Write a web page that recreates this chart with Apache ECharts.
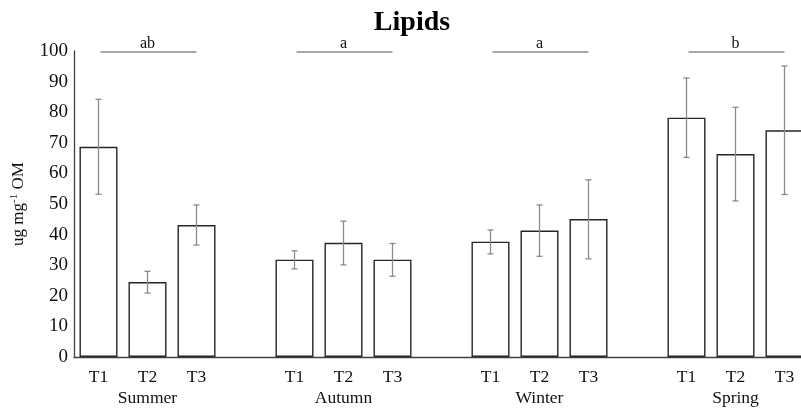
<!DOCTYPE html>
<html lang="en">
<head>
    <meta charset="UTF-8">
    <title>Lipids</title>
    <script src="https://cdn.jsdelivr.net/npm/echarts@6/dist/echarts.min.js"></script>
    <style>
        html, body { margin: 0; padding: 0; background: #fff; }
        #container { width: 801px; height: 410px; }
    </style>
</head>
<body>
<div id="container"></div>
<script>
    // data
    var seasons = ['Summer', 'Autumn', 'Winter', 'Spring'];
    var treatments = ['T1', 'T2', 'T3'];
    var means   = [[68.7, 24.5, 43.1], [31.8, 37.3, 31.8], [37.7, 41.3, 45.1], [78.2, 66.3, 74.1]];
    var errLow  = [[53.2, 20.9, 36.6], [28.8, 30.1, 26.4], [33.7, 32.9, 32.1], [65.2, 51.0, 53.1]];
    var errHigh = [[84.2, 28.0, 49.7], [34.7, 44.4, 37.1], [41.5, 49.7, 57.9], [91.2, 81.6, 95.1]];
    var letters = ['ab', 'a', 'a', 'b'];
    var yTicks = [0, 10, 20, 30, 40, 50, 60, 70, 80, 90, 100];

    var font = 'Liberation Serif, Times New Roman, serif';

    // flatten into one category axis with an empty slot between seasons
    var cats = [], barData = [], errData = [], groups = [];
    seasons.forEach(function (s, i) {
        var start = cats.length;
        treatments.forEach(function (t, j) {
            cats.push(j === 1 ? t + '\n' + s : t);
            barData.push(means[i][j]);
            errData.push([cats.length - 1, errLow[i][j], errHigh[i][j]]);
        });
        groups.push([start, cats.length - 1]);
        if (i < seasons.length - 1) {
            cats.push('');
            barData.push('-');
        }
    });

    var dom = document.getElementById('container');
    var myChart = echarts.init(dom);

    var option = {
        animation: false,
        title: {
            text: 'Lipids',
            left: 407,
            top: 4,
            textAlign: 'center',
            textStyle: { fontFamily: font, fontSize: 28, fontWeight: 'bold', color: '#000' }
        },
        grid: { left: 74, right: -8, top: 51, bottom: 53, outerBoundsMode: 'none', containLabel: false },
        xAxis: {
            type: 'category',
            data: cats,
            axisTick: { show: false },
            axisLine: { lineStyle: { color: '#404040', width: 1.3 } },
            axisLabel: {
                interval: 0,
                margin: 10,
                fontFamily: font,
                fontSize: 17.5,
                lineHeight: 21,
                color: '#111'
            }
        },
        yAxis: {
            type: 'value',
            min: yTicks[0],
            max: yTicks[yTicks.length - 1],
            interval: 10,
            splitLine: { show: false },
            axisTick: { show: false },
            axisLine: { show: true, lineStyle: { color: '#404040', width: 1.3 } },
            axisLabel: { margin: 6, fontFamily: font, fontSize: 19, color: '#111' },
            name: '{a|ug mg}{s|-1}{a| OM}',
            nameLocation: 'middle',
            nameRotate: 90,
            nameGap: 45,
            nameTextStyle: {
                rich: {
                    a: { fontFamily: font, fontSize: 17, color: '#111', lineHeight: 20 },
                    s: { fontFamily: font, fontSize: 11, color: '#111', lineHeight: 20, verticalAlign: 'top', padding: [0, 0, 6, 0] }
                }
            }
        },
        series: [
            {
                type: 'bar',
                data: barData,
                barWidth: 38,
                itemStyle: { color: '#fff', borderColor: '#262626', borderWidth: 1.4 }
            },
            {
                type: 'custom',
                data: errData,
                z: 5,
                renderItem: function (params, api) {
                    var lo = api.coord([api.value(0), api.value(1)]);
                    var hi = api.coord([api.value(0), api.value(2)]);
                    var w = 3;
                    var st = { stroke: '#8a8a8a', lineWidth: 1.3 };
                    return {
                        type: 'group',
                        children: [
                            { type: 'line', shape: { x1: lo[0], y1: lo[1], x2: hi[0], y2: hi[1] }, style: st },
                            { type: 'line', shape: { x1: lo[0] - w, y1: lo[1], x2: lo[0] + w, y2: lo[1] }, style: st },
                            { type: 'line', shape: { x1: hi[0] - w, y1: hi[1], x2: hi[0] + w, y2: hi[1] }, style: st }
                        ]
                    };
                }
            },
            {
                type: 'custom',
                data: groups,
                z: 5,
                renderItem: function (params, api) {
                    var a = api.coord([api.value(0), 100]);
                    var b = api.coord([api.value(1), 100]);
                    return {
                        type: 'group',
                        children: [
                            { type: 'line', shape: { x1: a[0] + 2, y1: a[1] + 1, x2: b[0], y2: b[1] + 1 }, style: { stroke: '#8a8a8a', lineWidth: 1.3 } },
                            {
                                type: 'text',
                                x: (a[0] + b[0]) / 2,
                                y: a[1] + 1,
                                style: {
                                    text: letters[params.dataIndex],
                                    fontFamily: font,
                                    fontSize: 16,
                                    fill: '#111',
                                    align: 'center',
                                    verticalAlign: 'bottom'
                                }
                            }
                        ]
                    };
                }
            }
        ]
    };
    myChart.setOption(option, true);
</script>
</body>
</html>
